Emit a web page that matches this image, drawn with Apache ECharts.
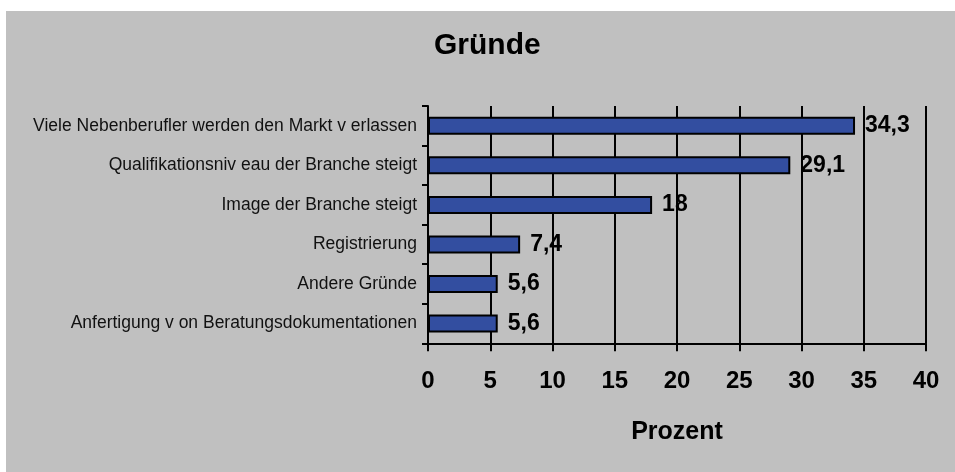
<!DOCTYPE html>
<html>
<head>
<meta charset="utf-8">
<script src="https://cdn.jsdelivr.net/npm/echarts@6/dist/echarts.min.js"></script>
<style>
  html, body { margin: 0; padding: 0; background: #ffffff; }
  #chart { position: absolute; left: 6px; top: 11px; width: 949px; height: 461px; }
</style>
</head>
<body>
<div id="chart"></div>
<script>
const titleText = 'Gründe';
const categories = [
  'Viele Nebenberufler werden den Markt v erlassen',
  'Qualifikationsniv eau der Branche steigt',
  'Image der Branche steigt',
  'Registrierung',
  'Andere Gründe',
  'Anfertigung v on Beratungsdokumentationen'
];
const values = [34.3, 29.1, 18, 7.4, 5.6, 5.6];
const axisName = 'Prozent';
const xMin = 0, xMax = 40, xStep = 5;

const FONT = '"Liberation Sans", Arial, sans-serif';
const chart = echarts.init(document.getElementById('chart'), null, { renderer: 'canvas' });
chart.setOption({
  backgroundColor: '#c0c0c0',
  animation: false,
  title: {
    text: titleText,
    left: 423,
    top: 15,
    textStyle: { fontFamily: FONT, fontSize: 30, fontWeight: 'bold', color: '#000' }
  },
  grid: { left: 422, right: 29, top: 95, bottom: 128.7, containLabel: false },
  xAxis: {
    type: 'value',
    min: xMin, max: xMax, interval: xStep,
    name: axisName,
    nameLocation: 'middle',
    nameGap: 76,
    nameTextStyle: { fontFamily: FONT, fontSize: 25, fontWeight: 'bold', color: '#000' },
    axisLine: { show: true, lineStyle: { color: '#000', width: 2 } },
    axisTick: { show: true, length: 8, lineStyle: { color: '#000', width: 2 } },
    axisLabel: { fontFamily: FONT, fontSize: 24, fontWeight: 'bold', color: '#000', margin: 26 },
    splitLine: { show: true, lineStyle: { color: '#000', width: 2 } }
  },
  yAxis: {
    type: 'category',
    inverse: true,
    data: categories,
    axisLine: { show: true, lineStyle: { color: '#000', width: 2 } },
    axisTick: { show: true, inside: false, length: 6, interval: 0, lineStyle: { color: '#000', width: 2 } },
    axisLabel: { fontFamily: FONT, fontSize: 17.5, color: '#111', margin: 11, interval: 0 },
    splitLine: { show: false }
  },
  series: [{
    type: 'bar',
    data: values,
    barWidth: 18,
    itemStyle: { color: '#334ea0', borderColor: '#000', borderWidth: 2 },
    label: {
      show: true,
      position: 'right',
      distance: 10,
      fontFamily: FONT,
      fontSize: 23,
      fontWeight: 'bold',
      color: '#000',
      formatter: p => String(p.value).replace('.', ',')
    }
  }]
});
</script>
</body>
</html>
